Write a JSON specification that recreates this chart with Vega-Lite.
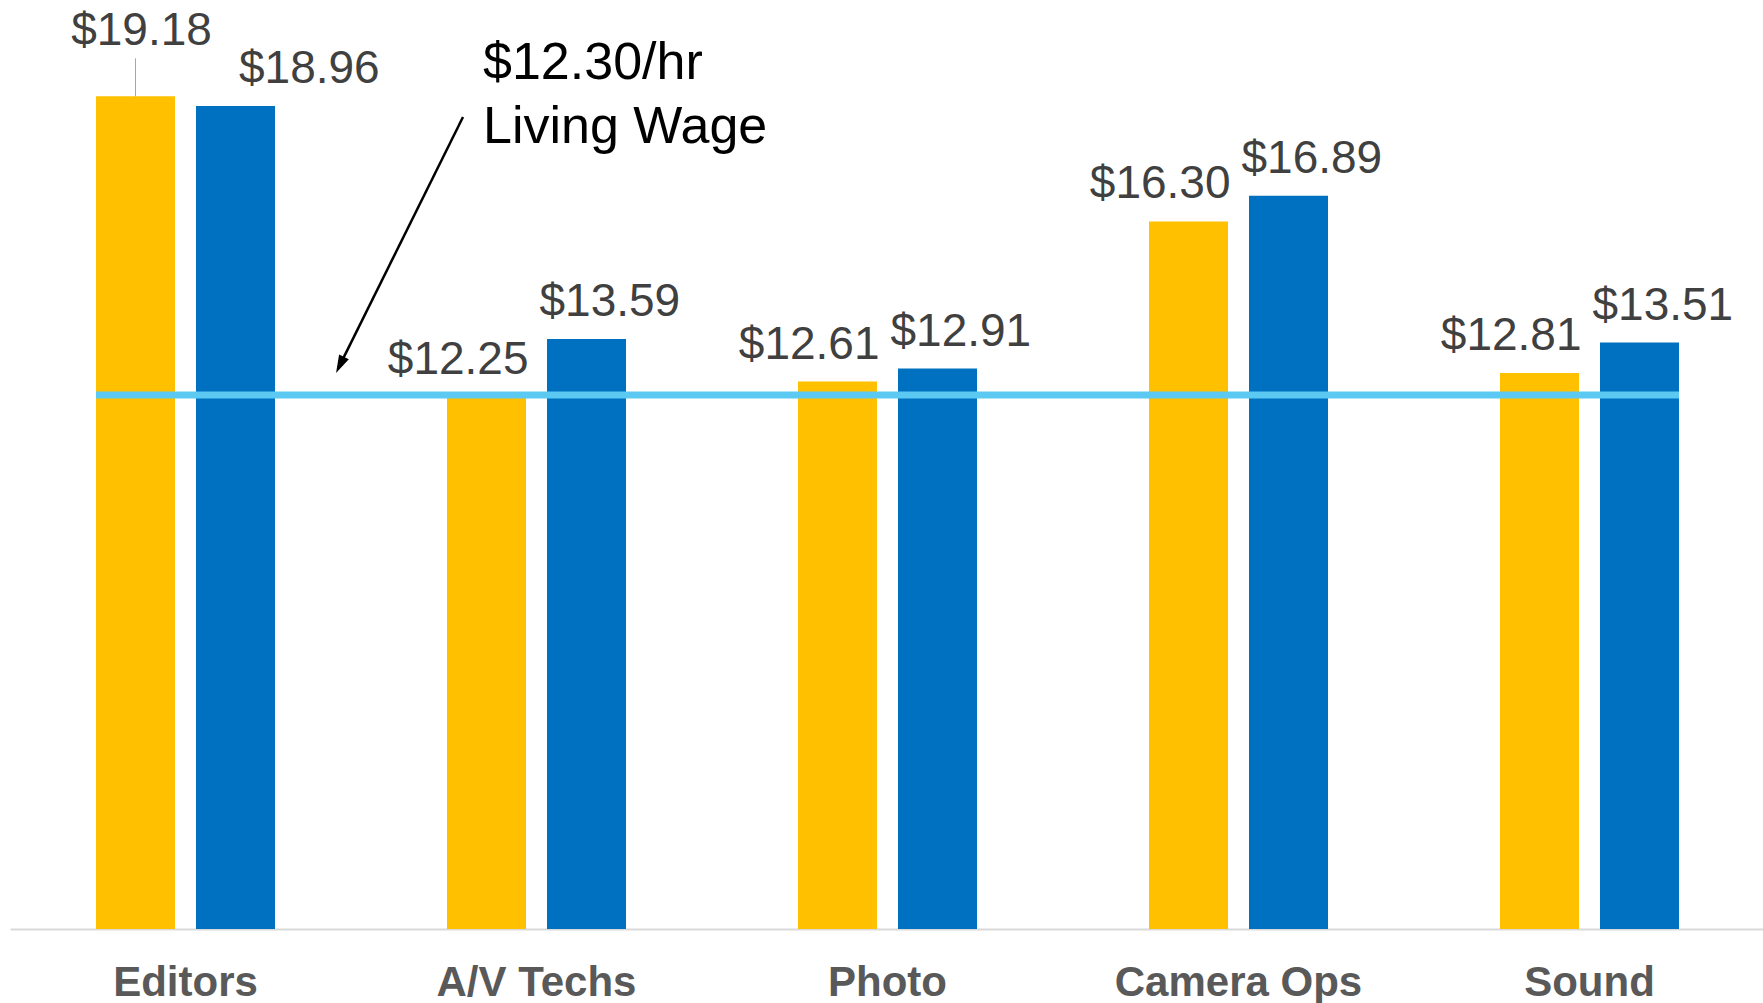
{
  "$schema": "https://vega.github.io/schema/vega-lite/v6.json",
  "width": 1755,
  "height": 929,
  "autosize": {"type": "none"},
  "padding": {"left": 10, "top": 0, "right": 0, "bottom": 74},
  "background": "white",
  "config": {"view": {"stroke": null}, "font": "Liberation Sans"},
  "datasets": {
    "wages": [
      {"category": "Editors", "series": "Series 1", "wage": 19.18},
      {"category": "Editors", "series": "Series 2", "wage": 18.96},
      {"category": "A/V Techs", "series": "Series 1", "wage": 12.25},
      {"category": "A/V Techs", "series": "Series 2", "wage": 13.59},
      {"category": "Photo", "series": "Series 1", "wage": 12.61},
      {"category": "Photo", "series": "Series 2", "wage": 12.91},
      {"category": "Camera Ops", "series": "Series 1", "wage": 16.30},
      {"category": "Camera Ops", "series": "Series 2", "wage": 16.89},
      {"category": "Sound", "series": "Series 1", "wage": 12.81},
      {"category": "Sound", "series": "Series 2", "wage": 13.51}
    ],
    "living": [{"wage": 12.3}],
    "arrowline": [
      {"ax": 1.2906, "ay": 18.705, "ord": 0},
      {"ax": 0.9402, "ay": 12.995, "ord": 1}
    ],
    "arrowhead": [{"ax": 0.9402, "ay": 12.995}],
    "note": [
      {"ax": 1.3476, "ay": 19.574, "label": "$12.30/hr"},
      {"ax": 1.3476, "ay": 18.099, "label": "Living Wage"}
    ]
  },
  "layer": [
    {
      "encoding": {
        "x": {
          "field": "category",
          "type": "nominal",
          "scale": {
            "domain": ["Editors", "A/V Techs", "Photo", "Camera Ops", "Sound"],
            "paddingInner": 0.49,
            "paddingOuter": 0.245
          },
          "axis": {
            "title": null,
            "ticks": false,
            "tickSize": 0,
            "labelAngle": 0,
            "labelFont": "Liberation Sans",
            "labelFontWeight": "bold",
            "labelFontSize": 42,
            "labelColor": "#595959",
            "labelBaseline": "alphabetic",
            "labelPadding": 66,
            "labelLimit": 0,
            "labelOverlap": false,
            "labelFlush": false,
            "domainColor": "#D9D9D9",
            "domainWidth": 2,
            "grid": false
          }
        },
        "y": {
          "field": "wage",
          "type": "quantitative",
          "scale": {"domain": [0, 21.4]},
          "axis": null
        }
      },
      "layer": [
        {
          "data": {"name": "wages"},
          "mark": {"type": "bar"},
          "encoding": {
            "xOffset": {"field": "series", "type": "nominal", "scale": {"paddingInner": 0.21, "paddingOuter": 0}},
            "color": {
              "field": "series",
              "type": "nominal",
              "scale": {"domain": ["Series 1", "Series 2"], "range": ["#FFC000", "#0070C0"]},
              "legend": null
            }
          }
        },
        {
          "data": {"name": "living"},
          "mark": {"type": "rule", "color": "#5BC9F1", "strokeWidth": 7},
          "encoding": {
            "x": {"datum": "Editors", "bandPosition": 0},
            "x2": {"datum": "Sound", "bandPosition": 1}
          }
        },
        {
          "data": {"name": "wages"},
          "transform": [{"filter": "datum.series === 'Series 1' && datum.category !== 'Editors'"}],
          "mark": {"type": "text", "align": "right", "baseline": "alphabetic", "dx": 42, "dy": -23, "fontSize": 46, "color": "#404040", "font": "Liberation Sans"},
          "encoding": {
            "xOffset": {"field": "series", "type": "nominal"},
            "text": {"field": "wage", "type": "quantitative", "format": "$.2f"}
          }
        },
        {
          "data": {"name": "wages"},
          "transform": [{"filter": "datum.series === 'Series 2' && datum.category !== 'Editors'"}],
          "mark": {"type": "text", "align": "left", "baseline": "alphabetic", "dx": -47, "dy": -23, "fontSize": 46, "color": "#404040", "font": "Liberation Sans"},
          "encoding": {
            "xOffset": {"field": "series", "type": "nominal"},
            "text": {"field": "wage", "type": "quantitative", "format": "$.2f"}
          }
        },
        {
          "data": {"name": "wages"},
          "transform": [{"filter": "datum.series === 'Series 1' && datum.category === 'Editors'"}],
          "mark": {"type": "text", "align": "center", "baseline": "alphabetic", "dx": 6, "dy": -51, "fontSize": 46, "color": "#404040", "font": "Liberation Sans"},
          "encoding": {
            "xOffset": {"field": "series", "type": "nominal"},
            "text": {"field": "wage", "type": "quantitative", "format": "$.2f"}
          }
        },
        {
          "data": {"name": "wages"},
          "transform": [{"filter": "datum.series === 'Series 1' && datum.category === 'Editors'"}],
          "mark": {"type": "rule", "color": "#A6A6A6", "strokeWidth": 1, "y2Offset": -38},
          "encoding": {
            "xOffset": {"field": "series", "type": "nominal"},
            "y2": {"field": "wage"}
          }
        },
        {
          "data": {"name": "wages"},
          "transform": [{"filter": "datum.series === 'Series 2' && datum.category === 'Editors'"}],
          "mark": {"type": "text", "align": "left", "baseline": "alphabetic", "dx": 3.5, "dy": -23, "fontSize": 46, "color": "#404040", "font": "Liberation Sans"},
          "encoding": {
            "xOffset": {"field": "series", "type": "nominal"},
            "text": {"field": "wage", "type": "quantitative", "format": "$.2f"}
          }
        }
      ]
    },
    {
      "layer": [
        {
          "data": {"name": "arrowline"},
          "mark": {"type": "line", "color": "black", "strokeWidth": 2.5},
          "encoding": {
            "x": {"field": "ax", "type": "quantitative", "scale": {"domain": [0, 5]}, "axis": null},
            "y": {"field": "ay", "type": "quantitative", "scale": {"domain": [0, 21.4]}, "axis": null},
            "order": {"field": "ord"}
          }
        },
        {
          "data": {"name": "arrowhead"},
          "mark": {"type": "point", "shape": "M0,-1L0.6,1L-0.6,1Z", "filled": true, "color": "black", "opacity": 1, "size": 324, "angle": 206},
          "encoding": {
            "x": {"field": "ax", "type": "quantitative", "scale": {"domain": [0, 5]}, "axis": null},
            "y": {"field": "ay", "type": "quantitative", "scale": {"domain": [0, 21.4]}, "axis": null}
          }
        },
        {
          "data": {"name": "note"},
          "mark": {"type": "text", "align": "left", "baseline": "alphabetic", "fontSize": 52, "color": "black", "font": "Liberation Sans"},
          "encoding": {
            "x": {"field": "ax", "type": "quantitative", "scale": {"domain": [0, 5]}, "axis": null},
            "y": {"field": "ay", "type": "quantitative", "scale": {"domain": [0, 21.4]}, "axis": null},
            "text": {"field": "label", "type": "nominal"}
          }
        }
      ]
    }
  ],
  "resolve": {"scale": {"x": "independent"}}
}
